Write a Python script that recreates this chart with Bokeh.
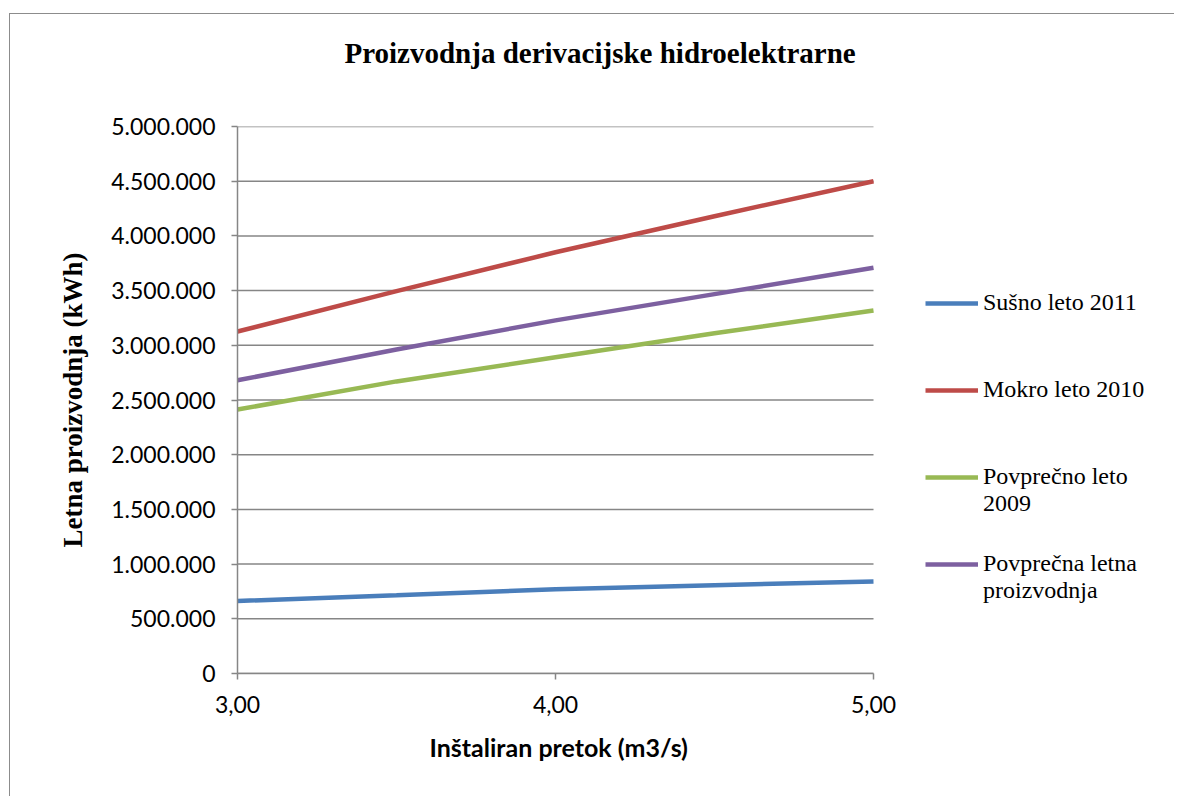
from bokeh.plotting import figure
from bokeh.models import Range1d, FixedTicker, Legend, LegendItem, Title
from bokeh.embed import file_html
from bokeh.resources import INLINE

# ---- data ----
protok = [3.0, 3.5, 4.0, 4.5, 5.0]
susno_2011 = [663000, 715000, 770000, 807000, 842000]
mokro_2010 = [3126000, 3495000, 3850000, 4180000, 4500000]
povprecno_2009 = [2413000, 2670000, 2890000, 3110000, 3318000]
povprecna_letna = [2680000, 2962000, 3228000, 3468000, 3708000]

series_names = ["Sušno leto 2011", "Mokro leto 2010", "\nPovprečno leto\n2009", "\nPovprečna letna\nproizvodnja"]
series_colors = ["#4A7EBB", "#BE4B48", "#98B954", "#7D60A0"]

x_ticks = [3, 4, 5]
x_tick_labels = ["3,00", "4,00", "5,00"]
y_ticks = [0, 500000, 1000000, 1500000, 2000000, 2500000, 3000000, 3500000, 4000000, 4500000, 5000000]
y_tick_labels = ["0", "500.000", "1.000.000", "1.500.000", "2.000.000", "2.500.000",
                 "3.000.000", "3.500.000", "4.000.000", "4.500.000", "5.000.000"]

title_text = "Proizvodnja derivacijske hidroelektrarne"
x_title = "Inštaliran pretok (m3/s)"
y_title = "Letna proizvodnja (kWh)"

GRAY = "#868686"

# layout (pixels)
W, H = 1165, 783
LEFT, TOP, BOTTOM = 227, 112, 124
PLOT_PX = 636          # pixel width of the 3..5 data span
frame_px = W - LEFT    # frame reaches the right edge so the legend is not clipped
x_end = x_ticks[0] + (x_ticks[-1] - x_ticks[0]) * frame_px / PLOT_PX

p = figure(width=W, height=H, output_backend="svg", toolbar_location=None,
           x_range=Range1d(x_ticks[0], x_end), y_range=Range1d(y_ticks[0], y_ticks[-1]),
           min_border_left=LEFT, min_border_right=0, min_border_top=TOP, min_border_bottom=BOTTOM)
p.styles = {"border-left": "1px solid #8c8c8c", "border-top": "1px solid #8c8c8c",
            "margin-left": "9px", "margin-top": "13px"}
p.outline_line_color = None

title = Title(text=title_text + "\n\n", text_font="Liberation Serif", text_font_size="29px",
              text_font_style="bold", text_color="black", align="left", offset=107,
              text_line_height=1.0)
try:
    title.standoff = -13
except Exception:
    title.standoff = 0
p.title = title

# axes
p.xaxis.ticker = FixedTicker(ticks=x_ticks)
p.xaxis.major_label_overrides = {t: l for t, l in zip(x_ticks, x_tick_labels)}
p.xaxis.bounds = (x_ticks[0], x_ticks[-1])
p.yaxis.ticker = FixedTicker(ticks=y_ticks)
p.yaxis.major_label_overrides = {t: l for t, l in zip(y_ticks, y_tick_labels)}

for ax in (p.xaxis, p.yaxis):
    ax.axis_line_color = GRAY
    ax.axis_line_width = 1.5
    ax.major_tick_line_color = GRAY
    ax.major_tick_line_width = 1.5
    ax.major_tick_out = 6
    ax.major_tick_in = 0
    ax.minor_tick_line_color = None
    ax.major_label_text_font = "Lato"
    ax.major_label_text_font_size = "23px"
    ax.major_label_text_color = "black"

p.yaxis.major_label_standoff = 16
p.xaxis.major_label_standoff = 16

# x axis title, centred under the 3..5 span
p.add_layout(Title(text=x_title, text_font="Lato", text_font_size="25px", text_font_style="bold",
                   text_color="black", align="left", offset=192, standoff=28), "below")

p.yaxis.axis_label = y_title
p.yaxis.axis_label_text_font = "Liberation Serif"
p.yaxis.axis_label_text_font_size = "27px"
p.yaxis.axis_label_text_font_style = "bold"
p.yaxis.axis_label_text_color = "black"
p.yaxis.axis_label_standoff = 20

# horizontal gridlines limited to the 3..5 span
p.xgrid.grid_line_color = None
p.ygrid.grid_line_color = None
p.segment(x0=[x_ticks[0]] * len(y_ticks), x1=[x_ticks[-1]] * len(y_ticks),
          y0=y_ticks, y1=y_ticks, line_color=GRAY, line_width=1.5)

# lines
all_series = [susno_2011, mokro_2010, povprecno_2009, povprecna_letna]
renderers = []
for vals, col in zip(all_series, series_colors):
    r = p.line(protok, vals, line_color=col, line_width=4.5)
    renderers.append(r)

items = [LegendItem(label=n, renderers=[r]) for n, r in zip(series_names, renderers)]
legend = Legend(items=items, location=(688, 66), padding=0, margin=0, spacing=0,
                glyph_width=53, glyph_height=30, label_height=87, label_standoff=5,
                border_line_alpha=0, background_fill_alpha=0,
                label_text_font="Liberation Serif", label_text_font_size="24px",
                label_text_color="black")
p.add_layout(legend, "center")

open("out.html", "w").write(file_html(p, INLINE))
